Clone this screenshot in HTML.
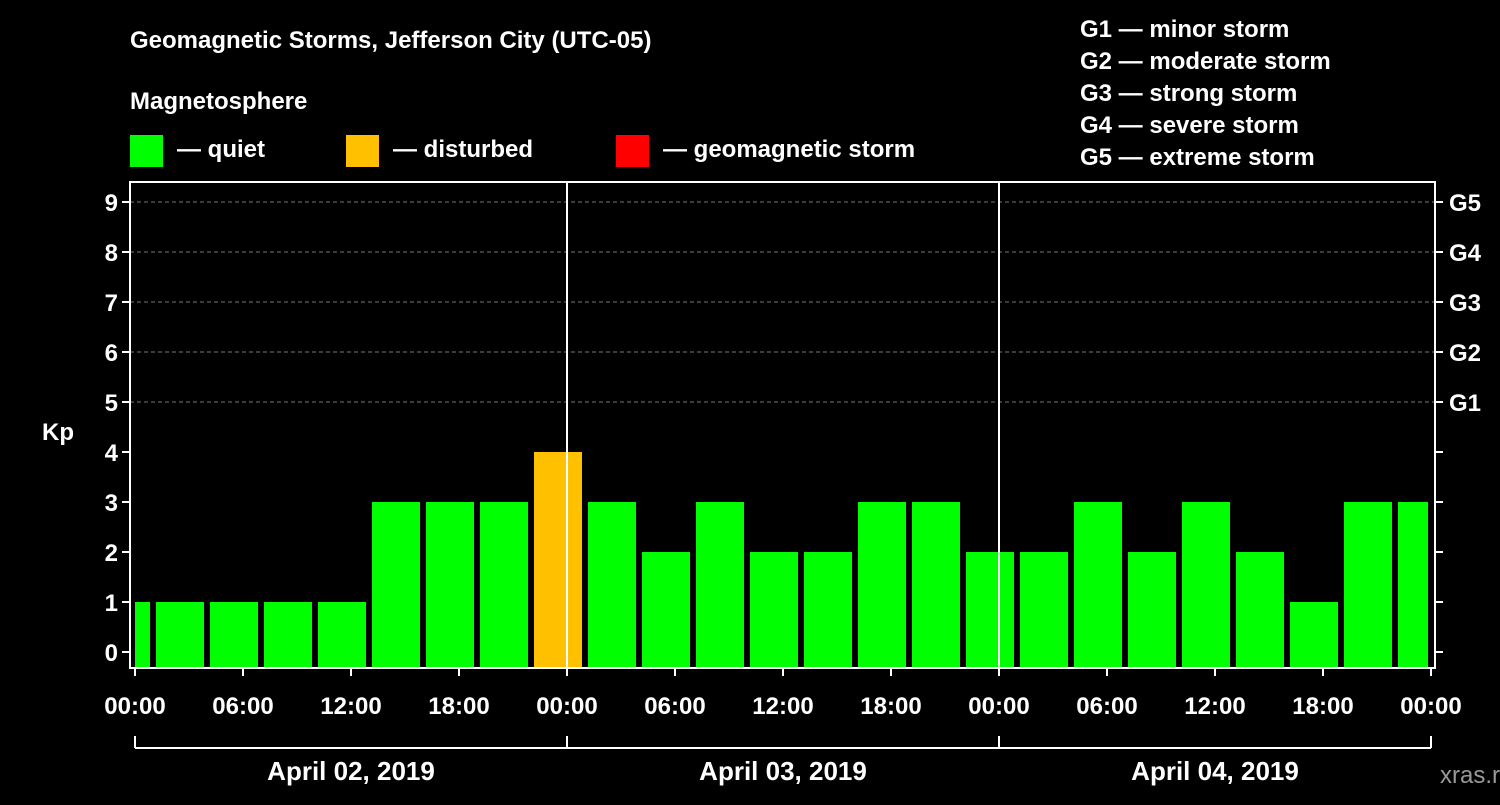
<!DOCTYPE html>
<html><head><meta charset="utf-8"><style>
body{margin:0;background:#000;width:1500px;height:800px;overflow:hidden}
svg text{font-family:"Liberation Sans",Arial,sans-serif;font-weight:bold;fill:#fff}
</style></head><body>
<svg id="c" width="1500" height="800">
<rect width="1500" height="800" fill="#000"/>
<text x="130" y="48" font-size="24">Geomagnetic Storms, Jefferson City (UTC-05)</text>
<text x="130" y="109" font-size="24">Magnetosphere</text>
<g><rect x="130" y="135" width="33" height="32" fill="#00ff00"/><text x="177" y="157" font-size="24">— quiet</text></g>
<g><rect x="346" y="135" width="33" height="32" fill="#ffc000"/><text x="393" y="157" font-size="24">— disturbed</text></g>
<g><rect x="616" y="135" width="33" height="32" fill="#ff0000"/><text x="663" y="157" font-size="24">— geomagnetic storm</text></g>
<g font-size="24">
<text x="1080" y="37">G1 — minor storm</text>
<text x="1080" y="69">G2 — moderate storm</text>
<text x="1080" y="101">G3 — strong storm</text>
<text x="1080" y="133">G4 — severe storm</text>
<text x="1080" y="165">G5 — extreme storm</text>
</g>
<text x="42" y="440" font-size="24">Kp</text>
<text x="1440" y="783" font-size="24" fill="#888" style="fill:#999;font-weight:normal">xras.ru</text>
<g id="plot"></g>
</svg>
<script>
const kpValues=[1,1,1,1,1,3,3,3,4,3,2,3,2,2,3,3,2,2,3,2,3,2,1,3,3];
const yTicks=[0,1,2,3,4,5,6,7,8,9];
const gLabels=["G1","G2","G3","G4","G5"];
const xTickLabels=["00:00","06:00","12:00","18:00","00:00","06:00","12:00","18:00","00:00","06:00","12:00","18:00","00:00"];
const dateLabels=["April 02, 2019","April 03, 2019","April 04, 2019"];
const NS="http://www.w3.org/2000/svg";
const g=document.getElementById('plot');
const L=130,R=1435,T=182,B=668,X0=135,X1=1431;
const xs=h=>X0+(X1-X0)*h/72;
const ys=v=>652-50*v;
function mk(t,a,p){const e=document.createElementNS(NS,t);for(const k in a)e.setAttribute(k,a[k]);(p||g).appendChild(e);return e;}
// clip
const cp=mk('clipPath',{id:'cl'});mk('rect',{x:X0,y:T,width:1428-X0,height:B-T},cp);
// grid
for(let v=5;v<=9;v++){const l=mk('line',{x1:L,x2:R,y1:ys(v),y2:ys(v),stroke:'#777','stroke-dasharray':'4,3'});

}
// bars
const bg=mk('g',{'clip-path':'url(#cl)'});
kpValues.forEach((v,i)=>{const c=-0.5+3*i;const x=xs(c-4/3);
const r=mk('rect',{x:x,y:ys(v),width:xs(c+4/3)-x,height:B-ys(v),fill:v>=5?'#ff0000':v>=4?'#ffc000':'#00ff00'},bg);

});
// day lines
[24,48].forEach(h=>{const l=mk('line',{x1:xs(h),x2:xs(h),y1:T,y2:B,stroke:'#fff','stroke-width':2});

});
// frame
const f=mk('rect',{x:L,y:T,width:R-L,height:B-T,fill:'none',stroke:'#fff','stroke-width':2});


// y ticks
yTicks.forEach(v=>{mk('line',{x1:L-8,x2:L,y1:ys(v),y2:ys(v),stroke:'#fff','stroke-width':2});
mk('line',{x1:R,x2:R+8,y1:ys(v),y2:ys(v),stroke:'#fff','stroke-width':2});
const t=mk('text',{x:118,y:ys(v)+9,'font-size':24,'text-anchor':'end'});t.textContent=v;

});
gLabels.forEach((s,i)=>{const t=mk('text',{x:1449,y:ys(5+i)+9,'font-size':24});t.textContent=s;

});
// x ticks
xTickLabels.forEach((s,i)=>{const x=xs(6*i);mk('line',{x1:x,x2:x,y1:B,y2:B+8,stroke:'#fff','stroke-width':2});
const t=mk('text',{x:x,y:714,'font-size':24,'text-anchor':'middle'});t.textContent=s;

});
// date bracket
mk('line',{x1:X0,x2:X1,y1:748,y2:748,stroke:'#fff','stroke-width':2});
[0,24,48,72].forEach(h=>mk('line',{x1:xs(h),x2:xs(h),y1:736,y2:748,stroke:'#fff','stroke-width':2}));
dateLabels.forEach((s,i)=>{const t=mk('text',{x:xs(24*i+12),y:780,'font-size':26,'text-anchor':'middle'});t.textContent=s;

});
</script>
</body></html>
